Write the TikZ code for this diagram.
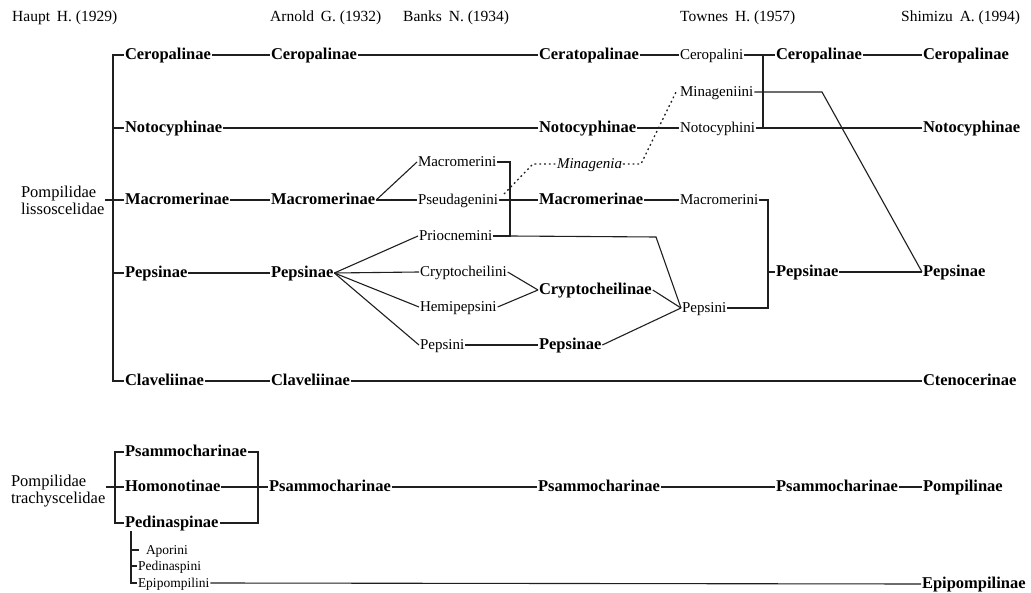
\documentclass[tikz,border=0pt]{standalone}
\usepackage{fontspec}
\setmainfont{Liberation Serif}
\begin{document}
\begin{tikzpicture}[x=1pt,y=-1pt]
\tikzset{
 lbl/.style={inner sep=0pt, outer sep=1pt, text height=9.5pt, text depth=0pt, anchor=west},
 bo/.style={lbl, font=\fontsize{16.5}{18}\selectfont\bfseries},
 re/.style={lbl, font=\fontsize{15}{17}\selectfont},
 sm/.style={lbl, font=\fontsize{13.5}{15}\selectfont},
 itl/.style={lbl, font=\fontsize{15}{17}\selectfont\itshape},
 hd/.style={inner sep=0pt, anchor=base west, font=\fontsize{15.5}{17}\selectfont},
 grp/.style={inner sep=0pt, outer sep=1pt, anchor=west, align=left, font=\fontsize{16.5}{17}\selectfont},
 ln/.style={line width=1.1pt, draw=black!88},
 dotl/.style={ln, line width=1.3pt, dash pattern=on 1.8pt off 3pt},
}
\useasboundingbox (0,0) rectangle (1031,593);
% headers
\node[hd] (h1) at (12,22) {Haupt\hspace{3pt} H. (1929)};
\node[hd] (h2) at (270,22) {Arnold\hspace{3pt} G. (1932)};
\node[hd] (h3) at (403,22) {Banks\hspace{3pt} N. (1934)};
\node[hd] (h4) at (680,22) {Townes\hspace{3pt} H. (1957)};
\node[hd] (h5) at (901,22) {Shimizu\hspace{3pt} A. (1994)};
% group labels
\node[grp] (lisso) at (20,200) {Pompilidae\\lissoscelidae};
\node[grp] (trachy) at (10,491) {Pompilidae\\trachyscelidae};
% Haupt
\node[bo] (hCero) at (124,55) {Ceropalinae};
\node[bo] (hNoto) at (124,128) {Notocyphinae};
\node[bo] (hMacro) at (124,200) {Macromerinae};
\node[bo] (hPeps) at (124,273) {Pepsinae};
\node[bo] (hClav) at (124,381) {Claveliinae};
% Arnold
\node[bo] (aCero) at (270,55) {Ceropalinae};
\node[bo] (aMacro) at (270,200) {Macromerinae};
\node[bo] (aPeps) at (270,273) {Pepsinae};
\node[bo] (aClav) at (270,381) {Claveliinae};
\node[re] (tMacro) at (417,162) {Macromerini};
\node[re] (tPseud) at (417,200) {Pseudagenini};
\node[re] (tPrio) at (418,236) {Priocnemini};
\node[re] (tCrypt) at (419,272) {Cryptocheilini};
\node[re] (tHemi) at (419,307) {Hemipepsini};
\node[re] (tPeps) at (419,345) {Pepsini};
% Banks
\node[bo] (bCera) at (538,55) {Ceratopalinae};
\node[bo] (bNoto) at (538,128) {Notocyphinae};
\node[bo] (bMacro) at (538,200) {Macromerinae};
\node[bo] (bCrypt) at (538,290) {Cryptocheilinae};
\node[bo] (bPeps) at (538,345) {Pepsinae};
\node[itl] (mina) at (556,164) {Minagenia};
% Townes
\node[re] (wCero) at (679,55) {Ceropalini};
\node[re] (wMina) at (679,92) {Minageniini};
\node[re] (wNoto) at (679,128) {Notocyphini};
\node[re] (wMacro) at (679,200) {Macromerini};
\node[re] (wPeps) at (681,308) {Pepsini};
\node[bo] (rCero) at (775,55) {Ceropalinae};
\node[bo] (rPeps) at (775,272) {Pepsinae};
% Shimizu
\node[bo] (sCero) at (922,55) {Ceropalinae};
\node[bo] (sNoto) at (922,128) {Notocyphinae};
\node[bo] (sPeps) at (922,272) {Pepsinae};
\node[bo] (sCten) at (922,381) {Ctenocerinae};
% bottom
\node[bo] (hPsam) at (124,452) {Psammocharinae};
\node[bo] (hHomo) at (124,487) {Homonotinae};
\node[bo] (hPedi) at (124,523) {Pedinaspinae};
\node[bo] (aPsam) at (268,487) {Psammocharinae};
\node[bo] (bPsam) at (537,487) {Psammocharinae};
\node[bo] (wPsam) at (775,487) {Psammocharinae};
\node[bo] (sPomp) at (922,487) {Pompilinae};
\node[sm] (sApor) at (145,550) {Aporini};
\node[sm] (sPedi) at (137,566) {Pedinaspini};
\node[sm] (sEpi) at (137,583) {Epipompilini};
\node[bo] (sEpiP) at (921,584) {Epipompilinae};
% coordinates
\coordinate (hTop) at (113,55);
\coordinate (hBot) at (113,381);
\coordinate (abT) at (510,162);
\coordinate (abB) at (510,236);
\coordinate (prC) at (656,237);
\coordinate (wbT) at (763,55);
\coordinate (wbB) at (763,128);
\coordinate (mk) at (822,92);
\coordinate (wb2T) at (768,200);
\coordinate (wb2B) at (768,308);
\coordinate (dA) at (504,194);
\coordinate (dB) at (533,164);
\coordinate (dC) at (641,164);
\coordinate (dD) at (677,90);
\coordinate (lbT) at (115,452);
\coordinate (lbB) at (115,523);
\coordinate (rbT) at (258,452);
\coordinate (rbB) at (258,523);
\coordinate (sbT) at (131,531);
\coordinate (sbB) at (131,583);
\coordinate (aporTick) at (139,550);
% Haupt bracket
\draw[ln] (hCero.west) -- (hTop) -- (hBot) -- (hClav.west);
\draw[ln] (hTop |- hNoto.west) -- (hNoto.west);
\draw[ln] (lisso.east |- hMacro.west) -- (hMacro.west);
\draw[ln] (hTop |- hPeps.west) -- (hPeps.west);
% Ceropalinae row
\draw[ln] (hCero.east) -- (aCero.west);
\draw[ln] (aCero.east) -- (bCera.west);
\draw[ln] (bCera.east) -- (wCero.west);
\draw[ln] (wCero.east) -- (rCero.west);
\draw[ln] (rCero.east) -- (sCero.west);
\draw[ln] (wbT) -- (wbB);
\draw[ln] (wMina.east) -- (mk) -- (sPeps.west);
% Notocyphinae row
\draw[ln] (hNoto.east) -- (bNoto.west);
\draw[ln] (bNoto.east) -- (wNoto.west);
\draw[ln] (wNoto.east) -- (sNoto.west);
% Macromerinae
\draw[ln] (hMacro.east) -- (aMacro.west);
\draw[ln] (aMacro.east) -- (tMacro.west);
\draw[ln] (aMacro.east) -- (tPseud.west);
\draw[ln] (tMacro.east) -- (abT) -- (abB) -- (tPrio.east);
\draw[ln] (tPseud.east) -- (bMacro.west);
\draw[ln] (abB) -- (prC) -- (wPeps.west);
\draw[ln] (bMacro.east) -- (wMacro.west);
\draw[ln] (wMacro.east) -- (wb2T) -- (wb2B) -- (wPeps.east);
\draw[ln] (wb2T |- rPeps.west) -- (rPeps.west);
\draw[ln] (rPeps.east) -- (sPeps.west);
% Minagenia
\draw[dotl] (dA) -- (dB) -- (mina.west);
\draw[dotl] (mina.east) -- (dC) -- (dD);
% Pepsinae
\draw[ln] (hPeps.east) -- (aPeps.west);
\draw[ln] (aPeps.east) -- (tPrio.west);
\draw[ln] (aPeps.east) -- (tCrypt.west);
\draw[ln] (aPeps.east) -- (tHemi.west);
\draw[ln] (aPeps.east) -- (tPeps.west);
\draw[ln] (tCrypt.east) -- (bCrypt.west);
\draw[ln] (tHemi.east) -- (bCrypt.west);
\draw[ln] (tPeps.east) -- (bPeps.west);
\draw[ln] (bCrypt.east) -- (wPeps.west);
\draw[ln] (bPeps.east) -- (wPeps.west);
% Claveliinae
\draw[ln] (hClav.east) -- (aClav.west);
\draw[ln] (aClav.east) -- (sCten.west);
% bottom
\draw[ln] (hPsam.west) -- (lbT) -- (lbB) -- (hPedi.west);
\draw[ln] (trachy.east |- hHomo.west) -- (hHomo.west);
\draw[ln] (hPsam.east) -- (rbT) -- (rbB) -- (hPedi.east);
\draw[ln] (hHomo.east) -- (aPsam.west);
\draw[ln] (sbT) -- (sbB) -- (sEpi.west);
\draw[ln] (sbT |- sApor.west) -- (aporTick);
\draw[ln] (sbT |- sPedi.west) -- (sPedi.west);
\draw[ln] (aPsam.east) -- (bPsam.west);
\draw[ln] (bPsam.east) -- (wPsam.west);
\draw[ln] (wPsam.east) -- (sPomp.west);
\draw[ln] (sEpi.east) -- (sEpiP.west);
\end{tikzpicture}
\end{document}
